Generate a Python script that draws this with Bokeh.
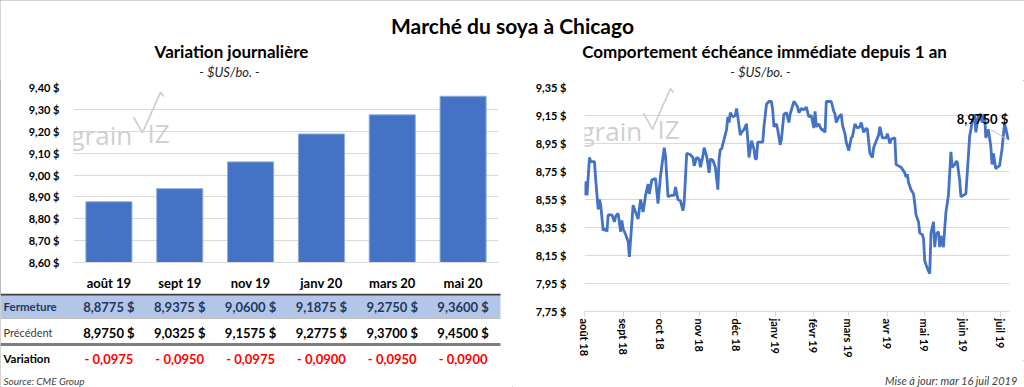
from datetime import datetime
import pandas as pd
from bokeh.plotting import figure
from bokeh.layouts import column, row
from bokeh.models import (Range1d, FactorRange, FixedTicker, CustomJSTickFormatter,
                          MonthsTicker, Label)
from bokeh.core.properties import value
from bokeh.embed import file_html
from bokeh.resources import INLINE

FONT = "Lato"

# ---------------- data ----------------
contracts = ["août 19", "sept 19", "nov 19", "janv 20", "mars 20", "mai 20"]
fermeture = [8.8775, 8.9375, 9.0600, 9.1875, 9.2750, 9.3600]
precedent = [8.9750, 9.0325, 9.1575, 9.2775, 9.3700, 9.4500]
variation = [-0.0975, -0.0950, -0.0975, -0.0900, -0.0950, -0.0900]
bar_ticks = [8.60, 8.70, 8.80, 8.90, 9.00, 9.10, 9.20, 9.30, 9.40]

line_dates = [
    "2018-08-01", "2018-08-02", "2018-08-03", "2018-08-05", "2018-08-06", "2018-08-09",
    "2018-08-10", "2018-08-12", "2018-08-13", "2018-08-14", "2018-08-16", "2018-08-18",
    "2018-08-19", "2018-08-20", "2018-08-23", "2018-08-25", "2018-08-26", "2018-08-28",
    "2018-08-30", "2018-08-31", "2018-09-01", "2018-09-03", "2018-09-05", "2018-09-06",
    "2018-09-09", "2018-09-11", "2018-09-13", "2018-09-15", "2018-09-17", "2018-09-19",
    "2018-09-21", "2018-09-22", "2018-09-24", "2018-09-27", "2018-09-29", "2018-10-01",
    "2018-10-04", "2018-10-05", "2018-10-07", "2018-10-10", "2018-10-12", "2018-10-13",
    "2018-10-15", "2018-10-17", "2018-10-19", "2018-10-20", "2018-10-22", "2018-10-25",
    "2018-10-27", "2018-10-28", "2018-10-30", "2018-11-01", "2018-11-02", "2018-11-04",
    "2018-11-05", "2018-11-07", "2018-11-09", "2018-11-10", "2018-11-12", "2018-11-14",
    "2018-11-16", "2018-11-17", "2018-11-18", "2018-11-19", "2018-11-21", "2018-11-23",
    "2018-11-24", "2018-11-25", "2018-11-26", "2018-11-28", "2018-11-30", "2018-12-01",
    "2018-12-02", "2018-12-04", "2018-12-05", "2018-12-07", "2018-12-09", "2018-12-10",
    "2018-12-11", "2018-12-13", "2018-12-15", "2018-12-16", "2018-12-17", "2018-12-18",
    "2018-12-22", "2018-12-23", "2018-12-25", "2018-12-27", "2018-12-29", "2018-12-30",
    "2018-12-31", "2019-01-02", "2019-01-03", "2019-01-05", "2019-01-06", "2019-01-08",
    "2019-01-10", "2019-01-12", "2019-01-13", "2019-01-16", "2019-01-17", "2019-01-19",
    "2019-01-20", "2019-01-22", "2019-01-24", "2019-01-26", "2019-01-28", "2019-01-30",
    "2019-02-01", "2019-02-02", "2019-02-03", "2019-02-05", "2019-02-07", "2019-02-08",
    "2019-02-10", "2019-02-11", "2019-02-15", "2019-02-17", "2019-02-18", "2019-02-19",
    "2019-02-21", "2019-02-23", "2019-02-24", "2019-02-26", "2019-02-27", "2019-03-01",
    "2019-03-03", "2019-03-04", "2019-03-06", "2019-03-08", "2019-03-10", "2019-03-11",
    "2019-03-13", "2019-03-15", "2019-03-16", "2019-03-18", "2019-03-20", "2019-03-21",
    "2019-03-24", "2019-03-25", "2019-03-26", "2019-03-28", "2019-03-31", "2019-04-01",
    "2019-04-03", "2019-04-04", "2019-04-07", "2019-04-08", "2019-04-10", "2019-04-12",
    "2019-04-15", "2019-04-16", "2019-04-17", "2019-04-18", "2019-04-20", "2019-04-22",
    "2019-04-23", "2019-04-24", "2019-04-26", "2019-04-27", "2019-04-29", "2019-04-30",
    "2019-05-01", "2019-05-03", "2019-05-05", "2019-05-06", "2019-05-08", "2019-05-09",
    "2019-05-10", "2019-05-12", "2019-05-13", "2019-05-14", "2019-05-16", "2019-05-17",
    "2019-05-18", "2019-05-20", "2019-05-22", "2019-05-23", "2019-05-25", "2019-05-26",
    "2019-05-27", "2019-05-29", "2019-05-30", "2019-06-01", "2019-06-03", "2019-06-05",
    "2019-06-06", "2019-06-08", "2019-06-10", "2019-06-11", "2019-06-13", "2019-06-15",
    "2019-06-16", "2019-06-18", "2019-06-19", "2019-06-21", "2019-06-23", "2019-06-24",
    "2019-06-25", "2019-06-27", "2019-06-28", "2019-06-30", "2019-07-02", "2019-07-04",
    "2019-07-05", "2019-07-07",
]
line_values = [
    8.58, 8.68, 8.58, 8.85, 8.82, 8.82,
    8.69, 8.48, 8.55, 8.51, 8.33, 8.34,
    8.32, 8.44, 8.44, 8.39, 8.43, 8.45,
    8.32, 8.40, 8.34, 8.30, 8.25, 8.14,
    8.51, 8.46, 8.41, 8.55, 8.46, 8.58,
    8.66, 8.59, 8.69, 8.70, 8.52, 8.72,
    8.92, 8.86, 8.57, 8.58, 8.58, 8.64,
    8.55, 8.54, 8.47, 8.53, 8.88, 8.87,
    8.85, 8.79, 8.85, 8.84, 8.78, 8.86,
    8.92, 8.86, 8.74, 8.84, 8.83, 8.78,
    8.62, 8.84, 8.91, 8.91, 8.98, 9.05,
    9.14, 9.10, 9.17, 9.14, 9.15, 9.20,
    9.14, 9.01, 9.03, 9.05, 9.09, 8.98,
    8.85, 8.97, 8.91, 8.84, 8.84, 8.96,
    8.96, 9.07, 9.23, 9.25, 9.25, 9.19,
    9.07, 9.09, 9.05, 8.94, 8.98, 9.16,
    9.17, 9.10, 9.16, 9.25, 9.24, 9.21,
    9.17, 9.20, 9.19, 9.21, 9.14, 9.15,
    9.06, 9.18, 9.07, 9.09, 9.05, 9.05,
    9.03, 9.25, 9.25, 9.18, 9.16, 9.10,
    9.14, 9.16, 9.08, 9.02, 8.96, 8.90,
    8.99, 9.00, 9.09, 9.06, 9.07, 9.10,
    9.03, 9.06, 9.05, 8.88, 8.85, 8.92,
    8.99, 9.01, 9.07, 8.99, 8.99, 9.02,
    8.95, 8.98, 8.99, 8.80, 8.79, 8.78,
    8.74, 8.71, 8.73, 8.67, 8.62, 8.59,
    8.52, 8.44, 8.39, 8.31, 8.30, 8.27,
    8.11, 8.06, 8.02, 8.31, 8.39, 8.21,
    8.30, 8.32, 8.21, 8.29, 8.21, 8.34,
    8.46, 8.58, 8.89, 8.78, 8.80, 8.82,
    8.82, 8.69, 8.57, 8.58, 8.59, 8.86,
    9.00, 9.10, 9.16, 9.03, 9.15, 9.16,
    9.10, 9.16, 8.99, 9.05, 8.93, 8.80,
    8.88, 8.77, 8.78, 8.79, 8.91, 9.09,
    9.06, 8.975,
]
line_ticks = [7.75, 7.95, 8.15, 8.35, 8.55, 8.75, 8.95, 9.15, 9.35]
month_labels = ["janv", "févr", "mars", "avr", "mai", "juin",
                "juil", "août", "sept", "oct", "nov", "déc"]
line_start = datetime(2018, 8, 1)
line_end = datetime(2019, 7, 8)
leader_start = ("2019-06-23", 9.05)

# ---------------- layout constants ----------------
W, HALF = 1024, 512
TOP_H, BAR_H, TAB_H = 80, 213, 94
LINE_H, FOOT_H = 280, 27
BAR_L, BAR_R, BAR_T, BAR_B = 73, 14, 7, 28
LIN_L, LIN_R, LIN_T, LIN_B = 72, 15, 7, 47
BLUE = "#4472C4"
GRID = "#D9D9D9"
WM = "#D0D0D0"

money_fmt = CustomJSTickFormatter(code="return tick.toFixed(2).replace('.', ',') + ' $'")


def pixel_fig(w, h):
    f = figure(width=w, height=h, x_range=Range1d(0, w), y_range=Range1d(h, 0),
               x_axis_location=None, y_axis_location=None, min_border=0,
               frame_align=False, output_backend="svg", toolbar_location=None)
    f.grid.visible = False
    f.outline_line_color = None
    return f


def txt(f, x, y, s, size, style="normal", color="#000000", align="left"):
    f.text(x=[x], y=[y], text=[s], text_font=value(FONT), text_font_size=size,
           text_font_style=style, text_color=color, text_align=align,
           text_baseline="middle")


def fr_num(v):
    return f"{v:.4f}".replace(".", ",")


# ---------------- top titles ----------------
top = pixel_fig(W, TOP_H)
txt(top, 512, 25, "Marché du soya à Chicago", "21px", "bold", align="center")
txt(top, 231, 51, "Variation journalière", "17px", "bold", align="center")
txt(top, 229, 71, "- $US/bo. -", "13px", "italic", "#262626", align="center")
txt(top, 764, 51, "Comportement échéance immédiate depuis 1 an", "17px", "bold", align="center")
txt(top, 760, 71, "- $US/bo. -", "13px", "italic", "#262626", align="center")


def style_common(f):
    f.outline_line_color = None
    f.xgrid.visible = False
    f.ygrid.grid_line_color = GRID
    f.ygrid.grid_line_width = 1
    for ax in (f.xaxis[0], f.yaxis[0]):
        ax.major_label_text_font = FONT
        ax.major_label_text_font_style = "bold"
        ax.major_label_text_color = "#000000"
        ax.minor_tick_line_color = None
    f.yaxis.axis_line_color = None
    f.yaxis.major_tick_line_color = None
    f.yaxis.formatter = money_fmt
    f.yaxis.major_label_text_font_size = "11px"


def watermark(f, x0, y0, dxp, dyp, gx, gy):
    """Faint 'grainVIZ' logo. x0,y0: frame top-left (data); dxp/dyp: data per pixel;
    gx, gy: pixel offset of the word's baseline start from the frame top-left."""
    for s, ox, oy in (("grain", 0, 0), ("IZ", 77, -2)):
        f.add_layout(Label(x=x0, y=y0, x_offset=gx + ox, y_offset=-(gy + oy), text=s,
                           text_font="Open Sans", text_font_size="26px", text_color=WM,
                           text_baseline="alphabetic"))
    vx = [63, 72, 90, 93]
    vy = [-17, -1, -42, -38]
    f.line([x0 + dxp * (gx + p) for p in vx], [y0 - dyp * (gy + q) for q in vy],
           line_color=WM, line_width=1.8)


# ---------------- bar chart ----------------
bar = figure(width=HALF, height=BAR_H, x_range=FactorRange(*contracts, range_padding=0),
             y_range=Range1d(bar_ticks[0], bar_ticks[-1]),
             min_border_left=BAR_L, min_border_right=BAR_R, min_border_top=BAR_T,
             min_border_bottom=BAR_B, frame_align=False,
             output_backend="svg", toolbar_location=None)
style_common(bar)
bar.yaxis.ticker = FixedTicker(ticks=bar_ticks)
bar.ygrid.ticker = FixedTicker(ticks=bar_ticks)
bar.yaxis.major_label_standoff = 8
bar.xaxis.axis_line_color = GRID
bar.xaxis.major_tick_line_color = None
bar.xaxis.major_tick_out = 0
bar.xaxis.major_label_standoff = 12
bar.xaxis.major_label_text_font_size = "13px"
bar.vbar(x=contracts, top=fermeture, bottom=bar_ticks[0], width=0.65,
         fill_color=BLUE, line_color="#8FAADC", line_width=1)
bar_fw = HALF - BAR_L - BAR_R
bar_fh = BAR_H - BAR_T - BAR_B
watermark(bar, 0, bar_ticks[-1], len(contracts) / bar_fw,
          (bar_ticks[-1] - bar_ticks[0]) / bar_fh, -3, 47)

# ---------------- table ----------------
tab = pixel_fig(HALF, TAB_H)
cat_w = bar_fw / len(contracts)
cx = [BAR_L + (i + 0.5) * cat_w for i in range(len(contracts))]
tab.quad(left=[0], right=[500], top=[1], bottom=[25], fill_color="#B4C6E7", line_color=None)
tab.segment(x0=[0], x1=[500], y0=[1], y1=[1], line_color="#404040", line_width=2)
tab.segment(x0=[0], x1=[500], y0=[25], y1=[25], line_color="#BFBFBF", line_width=1)
tab.segment(x0=[0], x1=[500], y0=[51], y1=[51], line_color="#7F7F7F", line_width=3)
txt(tab, 3, 13, "Fermeture", "11.5px", "bold", "#1F3864")
txt(tab, 3, 39, "Précédent", "11px", "normal", "#404040")
txt(tab, 3, 65, "Variation", "11.5px", "bold", "#000000")
tab.text(x=cx, y=[13] * 6, text=[fr_num(v) + " $" for v in fermeture],
         text_font=value(FONT), text_font_size="13px", text_font_style="bold",
         text_color="#1F3864", text_align="center", text_baseline="middle")
tab.text(x=cx, y=[39] * 6, text=[fr_num(v) + " $" for v in precedent],
         text_font=value(FONT), text_font_size="13px", text_font_style="bold",
         text_color="#000000", text_align="center", text_baseline="middle")
tab.text(x=cx, y=[65] * 6, text=["- " + fr_num(abs(v)) if v < 0 else fr_num(v) for v in variation],
         text_font=value(FONT), text_font_size="13px", text_font_style="bold",
         text_color="#FF0000", text_align="center", text_baseline="middle")
txt(tab, 3, 87, "Source: CME Group", "10px", "italic", "#404040")

# ---------------- line chart ----------------
dates = pd.to_datetime(line_dates)
lin = figure(width=HALF, height=LINE_H, x_axis_type="datetime",
             x_range=Range1d(line_start, line_end),
             y_range=Range1d(line_ticks[0], line_ticks[-1]),
             min_border_left=LIN_L, min_border_right=LIN_R, min_border_top=LIN_T,
             min_border_bottom=LIN_B, frame_align=False,
             output_backend="svg", toolbar_location=None)
style_common(lin)
lin.yaxis.ticker = FixedTicker(ticks=line_ticks)
lin.ygrid.ticker = FixedTicker(ticks=line_ticks)
lin.yaxis.major_label_standoff = 12
lin.xaxis.ticker = MonthsTicker(months=list(range(12)))
lin.xaxis.formatter = CustomJSTickFormatter(args=dict(months=month_labels), code="""
    const d = new Date(tick);
    return months[d.getUTCMonth()] + ' ' + String(d.getUTCFullYear()).slice(2);
""")
lin.xaxis.major_label_orientation = "vertical"
lin.xaxis.major_label_text_font_size = "11px"
lin.xaxis.axis_line_color = GRID
lin.xaxis.major_tick_line_color = GRID
lin.xaxis.major_tick_in = 0
lin.xaxis.major_tick_out = 5
lin.xaxis.major_label_standoff = 2
lin_fw = HALF - LIN_L - LIN_R
lin_fh = LINE_H - LIN_T - LIN_B
x0_ms = pd.Timestamp(line_start).value / 1e6
ms_span = (line_end - line_start).total_seconds() * 1000
watermark(lin, x0_ms, line_ticks[-1], ms_span / lin_fw,
          (line_ticks[-1] - line_ticks[0]) / lin_fh, -4, 43)
lin.line(dates, line_values, line_color=BLUE, line_width=2.8)

# last value label with leader line
last_x = dates[-1]
last_v = line_values[-1]
lin.line([pd.Timestamp(leader_start[0]), last_x], [leader_start[1], last_v],
         line_color="#BFBFBF", line_width=1)
lin.add_layout(Label(x=pd.Timestamp(last_x).value / 1e6, y=last_v, x_offset=0, y_offset=21,
                     text=fr_num(last_v) + " $", text_font=FONT, text_font_size="13px",
                     text_font_style="bold", text_color="#000000", text_align="right",
                     text_baseline="middle"))

foot = pixel_fig(HALF, FOOT_H)
txt(foot, 505, 20, "Mise à jour: mar 16 juil 2019", "11px", "italic", "#404040", align="right")

layout = column(top, row(column(bar, tab), column(lin, foot)),
                styles={"outline": "1px solid #A6A6A6", "outline-offset": "-1px"})

open("out.html", "w").write(file_html(layout, INLINE))
